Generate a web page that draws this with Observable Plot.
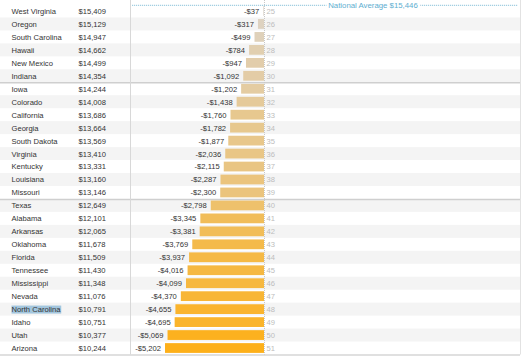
<!DOCTYPE html>
<html>
<head>
<meta charset="utf-8">
<script src="https://cdn.jsdelivr.net/npm/d3@7"></script>
<script src="https://cdn.jsdelivr.net/npm/@observablehq/plot@0.6"></script>
<style>
  html, body { margin: 0; padding: 0; background: #fff; }
</style>
</head>
<body>
<div id="chart"></div>
<script>
const states = ["West Virginia","Oregon","South Carolina","Hawaii","New Mexico","Indiana","Iowa","Colorado","California","Georgia","South Dakota","Virginia","Kentucky","Louisiana","Missouri","Texas","Alabama","Arkansas","Oklahoma","Florida","Tennessee","Mississippi","Nevada","North Carolina","Idaho","Utah","Arizona"];
const spending = [15409,15129,14947,14662,14499,14354,14244,14008,13686,13664,13569,13410,13331,13160,13146,12649,12101,12065,11678,11509,11430,11348,11076,10791,10751,10377,10244];
const diffs = [-37,-317,-499,-784,-947,-1092,-1202,-1438,-1760,-1782,-1877,-2036,-2115,-2287,-2300,-2798,-3345,-3381,-3769,-3937,-4016,-4099,-4370,-4655,-4695,-5069,-5202];
const ranks = [25,26,27,28,29,30,31,32,33,34,35,36,37,38,39,40,41,42,43,44,45,46,47,48,49,50,51];
const nationalAverage = 15446;
const groupStarts = ["Iowa","Texas"];
const highlighted = "North Carolina";

const rows = states.map((s, i) => ({
  state: s,
  value: spending[i],
  diff: diffs[i],
  rank: ranks[i],
  stripe: i % 2 === 1
}));

const W = 523, H = 358, mt = 4.5, mb = 3.5;
const rowH = (H - mt - mb) / states.length;
const money = d3.format("$,");
const fmtDiff = d => "-" + money(Math.abs(d));
const minDiff = d3.min(rows, d => d.diff);

const plot = Plot.plot({
  width: W,
  height: H,
  marginLeft: 0,
  marginRight: 3,
  marginTop: mt,
  marginBottom: mb,
  style: { fontFamily: "'Liberation Sans', Arial, sans-serif", fontSize: "7.6px", background: "#fff", overflow: "visible" },
  x: { domain: [minDiff, 0], range: [165, 264], axis: null },
  y: { domain: states, axis: null, padding: 0, round: false },
  color: { type: "linear", domain: [0, minDiff], range: ["#dcd4cb", "#fdb01a"], interpolate: "rgb" },
  marks: [
    // striping
    Plot.cell(rows.filter(d => d.stripe), { y: "state", fill: "#f4f4f4" }),
    // group separators
    Plot.ruleY(groupStarts, { dy: -rowH / 2, stroke: "#cfcfcf", strokeWidth: 1.4 }),
    Plot.ruleY([states[states.length - 1]], { dy: rowH / 2, stroke: "#d6d6d6", strokeWidth: 1.4 }),
    // vertical dividers
    Plot.ruleX([0], { dx: 130 - 264, stroke: "#d8d8d8", strokeWidth: 1, insetTop: -mt }),
    Plot.ruleX([0], { dx: 520 - 264, stroke: "#e2e2e2", strokeWidth: 1, insetTop: -mt }),
    // bars
    Plot.barX(rows, { y: "state", x1: 0, x2: "diff", fill: "diff", insetTop: 1.6, insetBottom: 1.6 }),
    Plot.ruleX([0], { stroke: "#c8c8c8", strokeDasharray: "1,1", strokeWidth: 1, insetTop: -mt }),
    // table text
    Plot.text(rows, { y: "state", text: "state", frameAnchor: "left", dx: 11, textAnchor: "start", fill: "#333" }),
    Plot.text(rows, { y: "state", text: d => money(d.value), frameAnchor: "left", dx: 78, textAnchor: "start", fill: "#333" }),
    Plot.text(rows, { y: "state", x: "diff", text: d => fmtDiff(d.diff), dx: -4.5, textAnchor: "end", fill: "#333" }),
    Plot.text(rows, { y: "state", x: 0, text: d => String(d.rank), dx: 2, textAnchor: "start", fill: "#bdbdbd" }),
    // national average reference
    Plot.ruleY([states[0]], { dy: -rowH / 2 + 0.3, stroke: "#8cc3da", strokeDasharray: "1.2,0.8", strokeWidth: 1, insetLeft: 132, insetRight: 2 }),
    Plot.text([states[0]], { y: d => d, dy: -rowH / 2 + 0.3, text: () => "National Average " + money(nationalAverage), frameAnchor: "left", dx: 372.5, textAnchor: "middle", fill: "#5eaed0", stroke: "#fff", strokeWidth: 5, fontSize: "7.8px" })
  ]
});

document.getElementById("chart").appendChild(plot);

// reproduce the text selection highlight behind the selected state name
const svg = plot.tagName.toLowerCase() === "svg" ? plot : plot.querySelector("svg");
svg.querySelectorAll("text").forEach(t => {
  if (t.textContent === highlighted) {
    const b = t.getBBox();
    const r = document.createElementNS("http://www.w3.org/2000/svg", "rect");
    r.setAttribute("x", b.x);
    r.setAttribute("y", b.y + 0.5);
    r.setAttribute("width", b.width);
    r.setAttribute("height", b.height - 1);
    r.setAttribute("fill", "#a3c6de");
    const tr = t.getAttribute("transform");
    if (tr) r.setAttribute("transform", tr);
    t.parentNode.insertBefore(r, t);
  }
});
</script>
</body>
</html>
